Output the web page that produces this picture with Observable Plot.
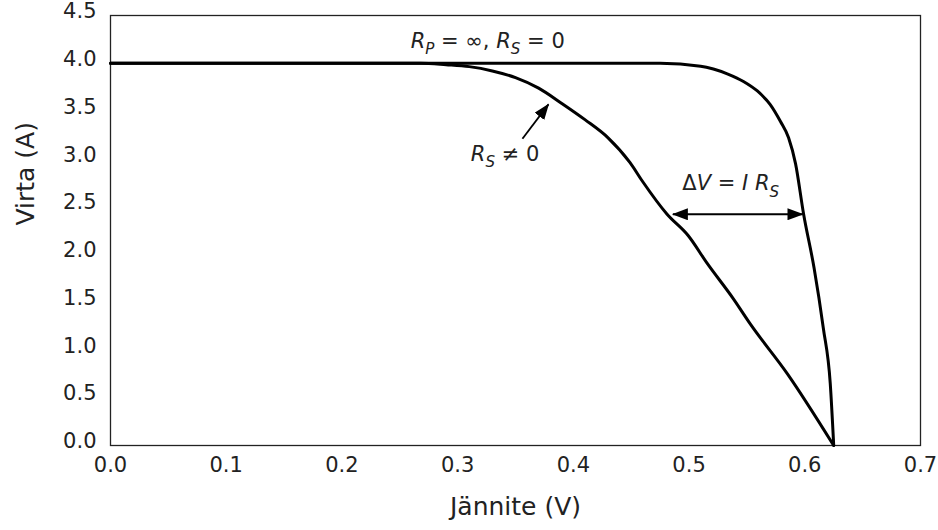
<!DOCTYPE html>
<html>
<head>
<meta charset="utf-8">
<script src="https://cdn.jsdelivr.net/npm/d3@7"></script>
<script src="https://cdn.jsdelivr.net/npm/@observablehq/plot@0.6"></script>
<style>
  html, body { margin: 0; padding: 0; background: #fff; }
  #chart svg { display: block; }
</style>
</head>
<body>
<div id="chart"></div>
<script>
// Ideal cell: R_P = ∞, R_S = 0
const idealV = [0, 0.475, 0.510, 0.521, 0.533, 0.547, 0.559, 0.570, 0.579, 0.586, 0.592, 0.599, 0.608, 0.616, 0.622, 0.625];
const idealI = [4.0, 4.0, 3.97, 3.94, 3.89, 3.81, 3.71, 3.57, 3.39, 3.22, 2.95, 2.42, 1.86, 1.23, 0.65, 0.0];
// Series resistance R_S ≠ 0
const rsV = [0, 0.268, 0.290, 0.310, 0.330, 0.350, 0.370, 0.390, 0.410, 0.430, 0.449, 0.460, 0.481, 0.499, 0.516, 0.538, 0.553, 0.585, 0.625];
const rsI = [4.0, 4.0, 3.985, 3.965, 3.92, 3.85, 3.74, 3.58, 3.41, 3.22, 2.96, 2.76, 2.42, 2.20, 1.90, 1.54, 1.27, 0.75, 0.0];

const xTicks = [0, 0.1, 0.2, 0.3, 0.4, 0.5, 0.6, 0.7];
const yTicks = [0, 0.5, 1.0, 1.5, 2.0, 2.5, 3.0, 3.5, 4.0, 4.5];

const labels = [
  {v: 0.326, i: 4.23, text: "R_P = ∞, R_S = 0"},
  {v: 0.341, i: 3.05, text: "R_S ≠ 0"},
  {v: 0.536, i: 2.74, text: "ΔV = I R_S"}
];
const pointer = [{v1: 0.356, i1: 3.21, v2: 0.3785, i2: 3.57}];
const deltaArrow = [{v1: 0.486, i1: 2.42, v2: 0.598, i2: 2.42}];

const ideal = idealV.map((v, k) => ({v, i: idealI[k]}));
const rs = rsV.map((v, k) => ({v, i: rsI[k]}));

const FONT = "DejaVu Sans";
const fmt = d3.format(".1f");
const ANN = 21;

const plot = Plot.plot({
  width: 938,
  height: 530,
  marginLeft: 110,
  marginRight: 18,
  marginTop: 15,
  marginBottom: 85,
  style: {fontFamily: FONT, background: "#fff", color: "#222"},
  x: {domain: [0, 0.7]},
  y: {domain: [0, 4.5]},
  marks: [
    Plot.axisX(xTicks, {tickSize: 0, tickPadding: 12, tickFormat: fmt, fontSize: 21, label: null, fill: "#222"}),
    Plot.axisY(yTicks, {tickSize: 0, tickPadding: 14, tickFormat: fmt, fontSize: 21, label: null, fill: "#222", dy: -4}),
    Plot.frame({stroke: "#222", strokeWidth: 1.3}),
    Plot.line(ideal, {x: "v", y: "i", stroke: "#000", strokeWidth: 3, curve: "monotone-x"}),
    Plot.line(rs, {x: "v", y: "i", stroke: "#000", strokeWidth: 3, curve: "monotone-x"}),
    Plot.link(pointer, {x1: "v1", y1: "i1", x2: "v2", y2: "i2", stroke: "#000", strokeWidth: 1.8, className: "ptr"}),
    Plot.link(deltaArrow, {x1: "v1", y1: "i1", x2: "v2", y2: "i2", stroke: "#000", strokeWidth: 1.8, className: "dbl"}),
    Plot.text(labels, {x: "v", y: "i", text: "text", fontSize: ANN, fill: "#222", className: "annot"}),
    Plot.text(["Virta (A)"], {frameAnchor: "left", dx: -85, dy: -5, rotate: -90, fontSize: 25, fill: "#222"}),
    Plot.text(["Jännite (V)"], {frameAnchor: "bottom", dy: 69, fontSize: 25, fill: "#222"})
  ]
});

// Arrowhead markers (filled triangles)
const ns = "http://www.w3.org/2000/svg";
const defs = document.createElementNS(ns, "defs");
function addMarker(id) {
  const m = document.createElementNS(ns, "marker");
  m.setAttribute("id", id);
  m.setAttribute("viewBox", "0 0 16 12");
  m.setAttribute("refX", "15");
  m.setAttribute("refY", "6");
  m.setAttribute("markerWidth", "16");
  m.setAttribute("markerHeight", "12");
  m.setAttribute("markerUnits", "userSpaceOnUse");
  m.setAttribute("orient", "auto-start-reverse");
  const p = document.createElementNS(ns, "path");
  p.setAttribute("d", "M0,0L16,6L0,12Z");
  p.setAttribute("fill", "#000");
  m.appendChild(p);
  defs.appendChild(m);
}
addMarker("head");
plot.insertBefore(defs, plot.firstChild);
plot.querySelectorAll(".ptr line, .ptr path").forEach(el => el.setAttribute("marker-end", "url(#head)"));
plot.querySelectorAll(".dbl line, .dbl path").forEach(el => {
  el.setAttribute("marker-end", "url(#head)");
  el.setAttribute("marker-start", "url(#head)");
});

// Rich text: italic letters and subscripts
function richify(textEl, size) {
  const s = textEl.textContent;
  textEl.textContent = "";
  let k = 0, up = false;
  while (k < s.length) {
    let ch = s[k], sub = false;
    if (ch === "_") { sub = true; k++; ch = s[k]; }
    const t = document.createElementNS(ns, "tspan");
    t.textContent = ch;
    if (/[A-Za-z]/.test(ch)) t.setAttribute("font-style", "italic");
    if (sub) {
      t.setAttribute("font-size", size * 0.72);
      t.setAttribute("dy", size * 0.3);
      up = true;
    } else if (up) {
      t.setAttribute("dy", -size * 0.3);
      up = false;
    }
    textEl.appendChild(t);
    k++;
  }
}
plot.querySelectorAll(".annot text").forEach(el => richify(el, ANN));

document.getElementById("chart").appendChild(plot);
</script>
</body>
</html>
